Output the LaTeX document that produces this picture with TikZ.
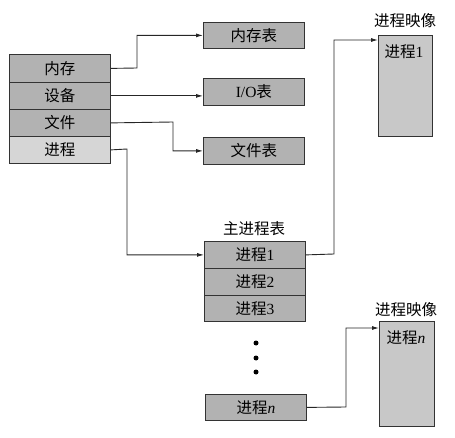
\documentclass[tikz,border=0pt]{standalone}
\usepackage{fontspec}
\setmainfont{Liberation Serif}
\newfontfamily\cjk{Noto Sans CJK SC}
\usetikzlibrary{arrows.meta}
\definecolor{dk}{HTML}{B2B2B2}
\definecolor{lt}{HTML}{D6D6D6}
\definecolor{img}{HTML}{C8C8C8}
\begin{document}
\begin{tikzpicture}[x=1pt,y=-1pt,
  cell/.style={draw=black!80,line width=0.8pt,fill=dk,minimum width=101pt,inner sep=0pt,font=\fontsize{15.5}{15.5}\selectfont\cjk},
  lbl/.style={font=\fontsize{15.5}{15.5}\selectfont\cjk,inner sep=0pt},
  conn/.style={draw=black!85,line width=0.9pt,-{Latex[length=7pt,width=4pt]}},
  dotn/.style={circle,fill=black,inner sep=0pt,minimum size=5pt}]
\useasboundingbox (0,0) rectangle (455,438);
% left block
\node[cell,minimum height=28pt,anchor=north west] (mem) at (9,54) {内存};
\node[cell,minimum height=27pt,anchor=north west] (dev) at (9,82) {设备};
\node[cell,minimum height=27pt,anchor=north west] (fil) at (9,109) {文件};
\node[cell,minimum height=27pt,anchor=north west,fill=lt] (pro) at (9,136) {进程};
% tables
\node[cell,minimum height=26pt,anchor=north west] (memt) at (203,22) {内存表};
\node[cell,minimum height=27pt,anchor=north west] (iot) at (203,78) {{\rmfamily I/O}表};
\node[cell,minimum height=27pt,anchor=north west] (filt) at (203,137) {文件表};
% main process table
\node[lbl] (mtl) at (254,229) {主进程表};
\node[cell,minimum height=27pt,anchor=north west] (p1) at (204,241) {进程{\rmfamily 1}};
\node[cell,minimum height=27pt,anchor=north west] (p2) at (204,268) {进程{\rmfamily 2}};
\node[cell,minimum height=26pt,anchor=north west] (p3) at (204,295) {进程{\rmfamily 3}};
\node[dotn] (d1) at (256,343) {};
\node[dotn] (d2) at (256,358) {};
\node[dotn] (d3) at (256,372) {};
\node[cell,minimum height=26pt,anchor=north west] (pn) at (205,394) {进程{\rmfamily\itshape n}};
% process images
\node[lbl] (im1l) at (405,21) {进程映像};
\node[draw=black!80,line width=0.8pt,fill=img,minimum width=54pt,minimum height=101pt,anchor=north west,inner sep=0pt] (im1) at (378,35) {};
\node[lbl] (im1t) at (404,52) {进程{\rmfamily 1}};
\node[lbl] (imnl) at (406,310) {进程映像};
\node[draw=black!80,line width=0.8pt,fill=img,minimum width=55pt,minimum height=105pt,anchor=north west,inner sep=0pt] (imn) at (379,321) {};
\node[lbl] (imnt) at (406,338) {进程{\rmfamily\itshape n}};
% connectors
\draw[conn] (mem.east) -- (137,68) |- (memt.west);
\draw[conn] (dev.east) -- (iot.west |- dev.east);
\draw[conn] (fil.east) -- (173,122) |- (filt.west);
\draw[conn] (pro.east) -- (127,149) |- (p1.west);
\draw[conn] (p1.east) -- (334,254) |- (im1.north west |- 0,40);
\draw[conn] (pn.east) -- (346,407) |- (imn.north west |- 0,328);
\end{tikzpicture}
\end{document}
